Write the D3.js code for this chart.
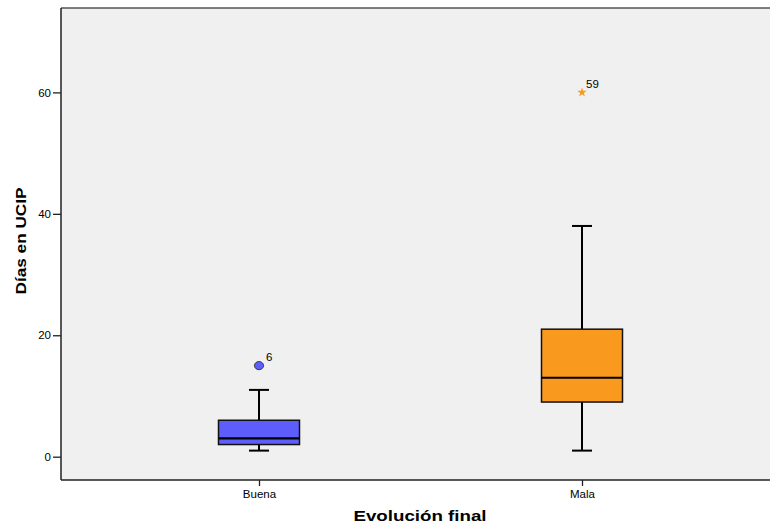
<!DOCTYPE html>
<html>
<head>
<meta charset="utf-8">
<script src="https://cdn.jsdelivr.net/npm/d3@7"></script>
<style>
  body { margin: 0; background: #fff; }
  text { font-family: "Liberation Sans", Arial, sans-serif; fill: #000; }
</style>
</head>
<body>
<svg width="770" height="527"></svg>
<script>
const categories = ["Buena", "Mala"];
const whiskerLow = [1, 1];
const q1 = [2, 9];
const median = [3, 13];
const q3 = [6, 21];
const whiskerHigh = [11, 38];

const outlierCats = ["Buena", "Mala"];
const outlierValues = [15, 60];
const outlierLabels = ["6", "59"];
const outlierKinds = ["outlier", "extreme"];

const yTicks = [0, 20, 40, 60];
const colors = ["#5d5dfc", "#f99a1f"];

const svg = d3.select("svg");
const margin = { top: 8, right: -10, bottom: 47, left: 61 };
const width = +svg.attr("width");
const height = +svg.attr("height");

const x = d3.scalePoint()
    .domain(categories)
    .range([margin.left, width - margin.right])
    .padding(0.613);
const y = d3.scaleLinear()
    .domain([-3.84, 73.9])
    .range([height - margin.bottom, margin.top]);

const boxW = 81;
const capW = 20;

// plot background
svg.append("rect")
    .attr("x", margin.left)
    .attr("y", margin.top)
    .attr("width", width - margin.left)
    .attr("height", height - margin.bottom - margin.top)
    .attr("fill", "#f0f0f0");

svg.append("line")
    .attr("x1", margin.left).attr("x2", width)
    .attr("y1", margin.top).attr("y2", margin.top)
    .attr("stroke", "#555").attr("stroke-width", 1.5);

// axes
const yAxis = svg.append("g")
    .attr("transform", `translate(${margin.left},0)`)
    .call(d3.axisLeft(y).tickValues(yTicks).tickSize(8).tickPadding(2));
const xAxis = svg.append("g")
    .attr("transform", `translate(0,${height - margin.bottom})`)
    .call(d3.axisBottom(x).tickSize(6).tickPadding(4));

[yAxis, xAxis].forEach(g => {
    g.select(".domain").attr("stroke", "#222").attr("stroke-width", 1.5);
    g.selectAll(".tick line").attr("stroke", "#222").attr("stroke-width", 1.3);
    g.selectAll("text").attr("font-size", 11.5).attr("fill", "#000")
        .style("font-family", "'Liberation Sans', Arial, sans-serif");
});
yAxis.select(".domain").attr("d", `M0,${margin.top}V${height - margin.bottom}`);
xAxis.select(".domain").attr("d", `M${margin.left},0H${width}`);

// boxes
const boxes = svg.append("g").selectAll("g")
    .data(categories)
    .enter().append("g");

boxes.append("line")
    .attr("x1", d => x(d)).attr("x2", d => x(d))
    .attr("y1", (d, i) => y(whiskerLow[i]))
    .attr("y2", (d, i) => y(whiskerHigh[i]))
    .attr("stroke", "#000").attr("stroke-width", 2);

boxes.selectAll(".cap")
    .data((d, i) => [whiskerLow[i], whiskerHigh[i]].map(v => ({ c: d, v })))
    .enter().append("line")
    .attr("class", "cap")
    .attr("x1", d => x(d.c) - capW / 2).attr("x2", d => x(d.c) + capW / 2)
    .attr("y1", d => y(d.v)).attr("y2", d => y(d.v))
    .attr("stroke", "#000").attr("stroke-width", 2);

boxes.append("rect")
    .attr("x", d => x(d) - boxW / 2)
    .attr("y", (d, i) => y(q3[i]))
    .attr("width", boxW)
    .attr("height", (d, i) => y(q1[i]) - y(q3[i]))
    .attr("fill", (d, i) => colors[i])
    .attr("stroke", "#111").attr("stroke-width", 1.5);

boxes.append("line")
    .attr("x1", d => x(d) - boxW / 2).attr("x2", d => x(d) + boxW / 2)
    .attr("y1", (d, i) => y(median[i])).attr("y2", (d, i) => y(median[i]))
    .attr("stroke", "#000").attr("stroke-width", 2.2);

// outliers
outlierValues.forEach((v, i) => {
    const cx = x(outlierCats[i]);
    const cy = y(v);
    const ci = categories.indexOf(outlierCats[i]);
    if (outlierKinds[i] === "outlier") {
        svg.append("ellipse")
            .attr("cx", cx).attr("cy", cy)
            .attr("rx", 4.6).attr("ry", 4.1)
            .attr("fill", colors[ci])
            .attr("stroke", "#222").attr("stroke-width", 0.8);
        svg.append("text")
            .attr("x", cx + 7).attr("y", cy - 4.5)
            .attr("font-size", 11.5)
            .text(outlierLabels[i]);
    } else {
        svg.append("path")
            .attr("transform", `translate(${cx},${cy})`)
            .attr("d", d3.symbol().type(d3.symbolStar).size(28)())
            .attr("fill", colors[ci]);
        svg.append("text")
            .attr("x", cx + 4).attr("y", cy - 4.5)
            .attr("font-size", 11.5)
            .text(outlierLabels[i]);
    }
});

// titles
svg.append("text")
    .attr("x", 420).attr("y", 521)
    .attr("text-anchor", "middle")
    .attr("font-size", 14).attr("font-weight", "bold")
    .attr("textLength", 133).attr("lengthAdjust", "spacingAndGlyphs")
    .text("Evolución final");

svg.append("text")
    .attr("transform", "translate(26,241) rotate(-90)")
    .attr("text-anchor", "middle")
    .attr("font-size", 14).attr("font-weight", "bold")
    .attr("textLength", 107).attr("lengthAdjust", "spacingAndGlyphs")
    .text("Días en UCIP");
</script>
</body>
</html>
